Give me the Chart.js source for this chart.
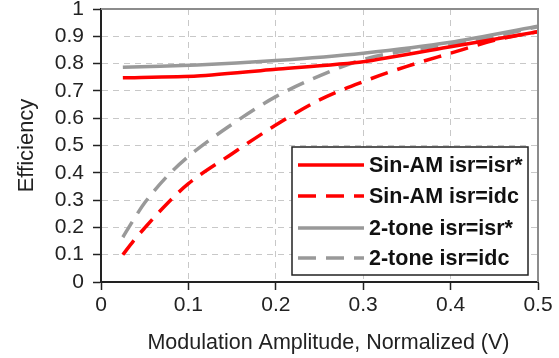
<!DOCTYPE html>
<html>
<head>
<meta charset="utf-8">
<script src="https://cdn.jsdelivr.net/npm/chart.js@4/dist/chart.umd.min.js"></script>
<style>
  html, body { margin: 0; padding: 0; background: #fff; }
  #wrap { width: 559px; height: 358px; }
</style>
</head>
<body>
<div id="wrap"><canvas id="effChart" width="559" height="358"></canvas></div>
<script>
// values
const xSolid = [0.025, 0.11, 0.2, 0.3, 0.4, 0.5];
const sinAmOpt = [0.748, 0.755, 0.779, 0.807, 0.862, 0.917];
const twoToneOpt = [0.787, 0.795, 0.811, 0.838, 0.878, 0.937];

const xDashed = [0.025, 0.037, 0.05, 0.075, 0.1, 0.15, 0.2, 0.25, 0.3, 0.35, 0.4, 0.45, 0.5];
const sinAmIdc = [0.10, 0.15, 0.198, 0.285, 0.36, 0.47, 0.575, 0.667, 0.734, 0.79, 0.838, 0.885, 0.917];
const twoToneIdc = [0.164, 0.227, 0.29, 0.385, 0.46, 0.578, 0.679, 0.755, 0.815, 0.848, 0.87, 0.9, 0.935];

const seriesLabels = ['Sin-AM isr=isr*', 'Sin-AM isr=idc', '2-tone isr=isr*', '2-tone isr=idc'];
const xTicks = [0, 0.1, 0.2, 0.3, 0.4, 0.5];
const yTicks = [0, 0.1, 0.2, 0.3, 0.4, 0.5, 0.6, 0.7, 0.8, 0.9, 1];

const RED = '#ff0000';
const GRAY = '#999999';
const DASH = [18, 10];
const FONT = '"Liberation Sans", Arial, sans-serif';

const pts = (xs, ys) => xs.map((x, i) => ({ x: x, y: ys[i] }));

// legend box drawn inside the plot, like the original
const boxLegend = {
    id: 'boxLegend',
    afterDatasetsDraw(chart) {
        const ctx = chart.ctx;
        const area = chart.chartArea;
        ctx.save();
        // plot frame: gray top/right
        ctx.strokeStyle = '#8c8c8c';
        ctx.lineWidth = 2;
        ctx.beginPath();
        ctx.moveTo(area.left, area.top);
        ctx.lineTo(area.right, area.top);
        ctx.lineTo(area.right, area.bottom);
        ctx.stroke();

        const bx = 292, by = 147, bw = 236, bh = 128;
        ctx.fillStyle = '#fff';
        ctx.fillRect(bx, by, bw, bh);
        ctx.strokeStyle = '#222';
        ctx.lineWidth = 1.5;
        ctx.strokeRect(bx, by, bw, bh);

        const rows = [165, 196, 228, 258];
        ctx.font = 'bold 21.5px ' + FONT;
        ctx.textBaseline = 'middle';
        chart.data.datasets.forEach((ds, i) => {
            ctx.strokeStyle = ds.borderColor;
            ctx.lineWidth = ds.borderWidth;
            ctx.setLineDash(ds.borderDash || []);
            ctx.beginPath();
            ctx.moveTo(298, rows[i]);
            ctx.lineTo(364, rows[i]);
            ctx.stroke();
            ctx.setLineDash([]);
            ctx.fillStyle = '#111';
            ctx.fillText(ds.label, 369, rows[i] + 1);
        });
        ctx.restore();
    }
};

const ctx = document.getElementById('effChart').getContext('2d');
new Chart(ctx, {
    type: 'line',
    data: {
        datasets: [
            {
                label: seriesLabels[0],
                data: pts(xSolid, sinAmOpt),
                borderColor: RED,
                borderWidth: 3.5,
                pointRadius: 0,
                tension: 0.2,
                order: 2
            },
            {
                label: seriesLabels[1],
                data: pts(xDashed, sinAmIdc),
                borderColor: RED,
                borderWidth: 3.5,
                borderDash: DASH,
                pointRadius: 0,
                cubicInterpolationMode: 'monotone',
                order: 1
            },
            {
                label: seriesLabels[2],
                data: pts(xSolid, twoToneOpt),
                borderColor: GRAY,
                borderWidth: 3.5,
                pointRadius: 0,
                tension: 0.2,
                order: 4
            },
            {
                label: seriesLabels[3],
                data: pts(xDashed, twoToneIdc),
                borderColor: GRAY,
                borderWidth: 3.5,
                borderDash: DASH,
                pointRadius: 0,
                cubicInterpolationMode: 'monotone',
                order: 3
            }
        ]
    },
    options: {
        responsive: false,
        animation: false,
        layout: { padding: { left: 10, top: 9, right: 21, bottom: 0 } },
        plugins: {
            legend: { display: false },
            tooltip: { enabled: false }
        },
        scales: {
            x: {
                type: 'linear',
                min: 0,
                max: 0.5,
                afterBuildTicks: s => { s.ticks = xTicks.map(v => ({ value: v })); },
                afterFit: s => { s.height = 76; s.paddingRight = 0; },
                ticks: {
                    color: '#222',
                    padding: 3,
                    maxRotation: 0,
                    autoSkip: false,
                    font: { family: FONT, size: 21 },
                    callback: v => String(v)
                },
                grid: {
                    color: '#c8c8c8',
                    lineWidth: 1,
                    tickColor: '#222',
                    tickLength: 8,
                    tickWidth: 1.5,
                    tickBorderDash: []
                },
                border: { color: '#222', width: 2, dash: [6, 5] },
                title: {
                    display: true,
                    text: '\u00a0\u00a0\u00a0Modulation Amplitude, Normalized (V)',
                    color: '#222',
                    padding: { top: 4, bottom: 2 },
                    font: { family: FONT, size: 21.5 }
                }
            },
            y: {
                min: 0,
                max: 1,
                afterBuildTicks: s => { s.ticks = yTicks.map(v => ({ value: v })); },
                afterFit: s => { s.width = 91; s.paddingTop = 0; s.paddingBottom = 0; },
                ticks: {
                    color: '#222',
                    padding: 9,
                    autoSkip: false,
                    font: { family: FONT, size: 21 },
                    callback: v => String(v)
                },
                grid: {
                    color: '#c8c8c8',
                    lineWidth: 1,
                    tickColor: '#222',
                    tickLength: 8,
                    tickWidth: 1.5,
                    tickBorderDash: []
                },
                border: { color: '#222', width: 2, dash: [6, 5] },
                title: {
                    display: true,
                    text: 'Efficiency',
                    color: '#222',
                    font: { family: FONT, size: 22 }
                }
            }
        }
    },
    plugins: [boxLegend]
});
</script>
</body>
</html>
